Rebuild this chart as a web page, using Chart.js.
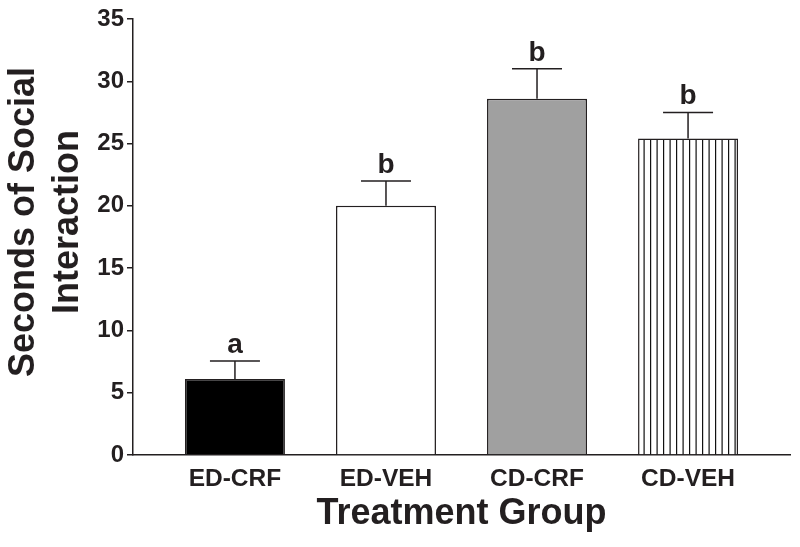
<!DOCTYPE html>
<html>
<head>
<meta charset="utf-8">
<script src="https://cdn.jsdelivr.net/npm/chart.js@4/dist/chart.umd.min.js"></script>
<style>
    html, body { margin: 0; padding: 0; background: #fff; }
    #wrap { width: 800px; height: 547px; position: relative; }
</style>
</head>
<body>
<div id="wrap"><canvas id="socialChart"></canvas></div>
<script>
// Data
const groups = ['ED-CRF', 'ED-VEH', 'CD-CRF', 'CD-VEH'];
const means = [6.1, 20.0, 28.6, 25.4];
const sems = [1.45, 2.0, 2.4, 2.1];
const letters = ['a', 'b', 'b', 'b'];
const yTicks = [0, 5, 10, 15, 20, 25, 30, 35];

const FONT = "'Liberation Sans', Arial, Helvetica, sans-serif";
const INK = '#231f20';

// vertical stripes for the last bar
function stripePattern() {
    const c = document.createElement('canvas');
    c.width = 13; c.height = 10;
    const g = c.getContext('2d');
    g.fillStyle = '#fff';
    g.fillRect(0, 0, 13, 10);
    g.fillStyle = '#111';
    g.fillRect(0, 0, 1.2, 10);
    g.fillRect(6.5, 0, 1.2, 10);
    return g.createPattern(c, 'repeat');
}

const ctx = document.getElementById('socialChart').getContext('2d');
const fills = ['#000000', '#ffffff', '#a0a0a0', stripePattern()];

// error bars + significance letters
const errorBars = {
    id: 'errorBars',
    afterDatasetsDraw(chart) {
        const { ctx } = chart;
        const y = chart.scales.y;
        const meta = chart.getDatasetMeta(0);
        ctx.save();
        ctx.strokeStyle = INK;
        ctx.lineWidth = 1.5;
        meta.data.forEach((bar, i) => {
            const top = y.getPixelForValue(means[i]);
            const capY = y.getPixelForValue(means[i] + sems[i]);
            const half = bar.width / 4;
            ctx.beginPath();
            ctx.moveTo(bar.x, top);
            ctx.lineTo(bar.x, capY);
            ctx.moveTo(bar.x - half, capY);
            ctx.lineTo(bar.x + half, capY);
            ctx.stroke();

            ctx.fillStyle = INK;
            ctx.font = `bold 28px ${FONT}`;
            ctx.textAlign = 'center';
            ctx.textBaseline = 'alphabetic';
            ctx.fillText(letters[i], bar.x, capY - 8);
        });
        ctx.restore();
    }
};

// two-line rotated y title
const yTitle = {
    id: 'yTitle',
    afterDraw(chart) {
        const { ctx } = chart;
        ctx.save();
        ctx.translate(0, 222);
        ctx.rotate(-Math.PI / 2);
        ctx.fillStyle = INK;
        ctx.font = `bold 36px ${FONT}`;
        ctx.textAlign = 'center';
        ctx.textBaseline = 'middle';
        ctx.fillText('Seconds of Social', 0, 24);
        ctx.fillText('Interaction', 0, 68);
        ctx.restore();
    }
};

new Chart(ctx, {
    type: 'bar',
    data: {
        datasets: [{
            data: means.map((v, i) => ({ x: i, y: v })),
            backgroundColor: fills,
            borderColor: INK,
            borderWidth: 1.5,
            barPercentage: 0.662,
            categoryPercentage: 1
        }]
    },
    options: {
        responsive: true,
        maintainAspectRatio: false,
        animation: false,
        layout: { padding: { left: 0, right: 10, top: 19, bottom: 0 } },
        plugins: { legend: { display: false }, tooltip: { enabled: false } },
        scales: {
            x: {
                type: 'linear',
                min: -0.675,
                max: 3.675,
                offset: false,
                bounds: 'data',
                grid: { display: false, drawTicks: false },
                border: { display: true, color: INK, width: 1.5 },
                afterBuildTicks: axis => { axis.ticks = groups.map((g, i) => ({ value: i })); },
                afterFit: axis => { axis.height = 92; },
                ticks: {
                    color: INK,
                    padding: 10,
                    maxRotation: 0,
                    font: { family: FONT, size: 24.5, weight: 'bold' },
                    callback: v => groups[v] ?? ''
                },
                title: {
                    display: true,
                    text: 'Treatment Group',
                    color: INK,
                    padding: { top: 0, bottom: 11 },
                    font: { family: FONT, size: 36, weight: 'bold' }
                }
            },
            y: {
                min: 0,
                max: 35,
                afterBuildTicks: axis => { axis.ticks = yTicks.map(v => ({ value: v })); },
                afterFit: axis => { axis.width = 133; },
                grid: { display: true, drawOnChartArea: false, drawTicks: true, tickLength: 6, color: INK, lineWidth: 1.5 },
                border: { display: true, color: INK, width: 1.5 },
                ticks: {
                    color: INK,
                    padding: 3,
                    font: { family: FONT, size: 24, weight: 'bold' }
                }
            }
        }
    },
    plugins: [errorBars, yTitle]
});
</script>
</body>
</html>
